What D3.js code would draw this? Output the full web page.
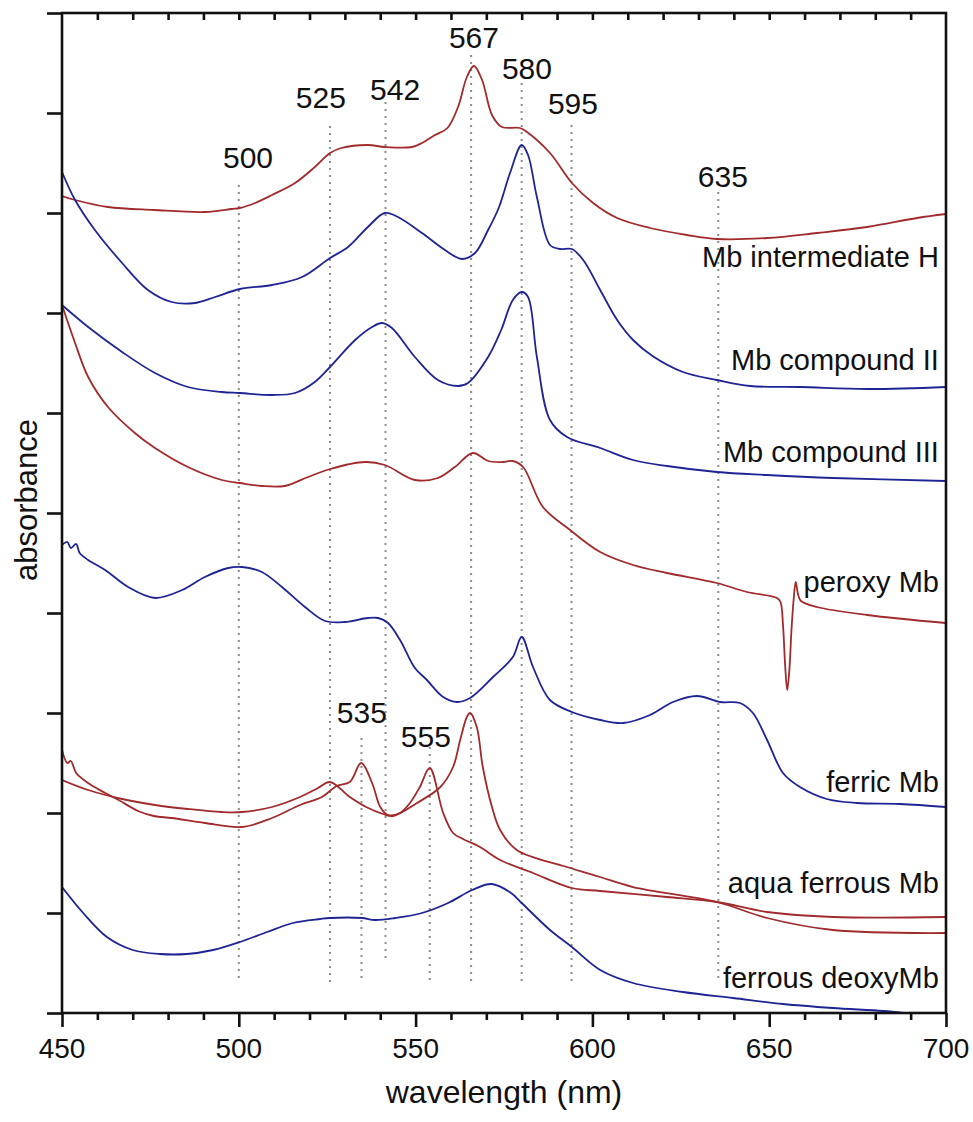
<!DOCTYPE html>
<html>
<head>
<meta charset="utf-8">
<script src="https://cdn.jsdelivr.net/npm/d3@7"></script>
<style>
  body { margin: 0; background: #fff; }
  svg text { font-family: "Liberation Sans", Arial, Helvetica, sans-serif; fill: #111; }
</style>
</head>
<body>
<svg id="chart" width="973" height="1122"></svg>
<script>
// spectra, [wavelength nm, absorbance (offset, arbitrary units)]
const intermediateH = [[450,8.17],[453.7,8.13],[463,8.06],[476,8.03],[490.4,8.01],[498,8.04],[500.3,8.05],[504.6,8.10],[509.4,8.18],[515.9,8.30],[521.5,8.46],[525.8,8.60],[529,8.65],[536.5,8.68],[541.3,8.66],[549,8.66],[551.8,8.70],[555.5,8.78],[559,8.85],[562,9.06],[564.5,9.36],[566.5,9.47],[568.8,9.33],[571.6,8.98],[574.4,8.86],[579.5,8.85],[581.5,8.81],[588,8.60],[594.2,8.30],[600.2,8.10],[607,7.95],[616.3,7.85],[626.7,7.78],[635.2,7.74],[649.4,7.75],[663.5,7.80],[677.7,7.86],[691.8,7.95],[700,7.99]];
const compoundII = [[450,8.41],[453.7,8.13],[459.3,7.83],[467,7.50],[474.3,7.23],[481,7.11],[487.6,7.10],[493.3,7.16],[500.3,7.24],[509.4,7.28],[517.9,7.36],[525.8,7.55],[530.9,7.66],[536.5,7.86],[541.3,8.00],[545,7.96],[551.8,7.80],[558.3,7.63],[563.1,7.54],[566.8,7.60],[570.5,7.83],[573.5,8.05],[576.7,8.40],[580,8.68],[581.8,8.58],[584.3,8.16],[588,7.68],[590.8,7.64],[594.2,7.64],[597.4,7.53],[602.2,7.23],[607,6.93],[611.5,6.73],[617,6.57],[625.6,6.41],[635.2,6.33],[644.6,6.27],[658.7,6.26],[677.7,6.24],[700,6.26]];
const compoundIII = [[450,7.08],[457.4,6.86],[467,6.61],[476.3,6.40],[485.6,6.26],[495.2,6.21],[500.3,6.20],[509.4,6.18],[515.9,6.20],[521.5,6.31],[525.8,6.46],[532.9,6.73],[537.7,6.86],[540.5,6.90],[543.3,6.85],[549.8,6.56],[556.3,6.33],[562,6.27],[564.8,6.30],[570.5,6.56],[574.2,6.83],[577.5,7.13],[580,7.21],[581.8,7.16],[584.3,6.56],[588,5.93],[592.8,5.76],[602.2,5.65],[611.5,5.53],[621.1,5.47],[635.2,5.41],[649.4,5.38],[668,5.35],[700,5.32]];
const peroxy = [[450,7.08],[453.7,6.70],[457.4,6.36],[463,6.06],[470.6,5.80],[476.3,5.65],[485.6,5.46],[495.2,5.33],[500.3,5.30],[506.5,5.27],[513,5.27],[519.6,5.36],[525.8,5.44],[535.7,5.51],[541.3,5.48],[549.8,5.33],[556.3,5.35],[561.1,5.46],[566.2,5.60],[570.5,5.52],[574.7,5.51],[577.5,5.52],[580.4,5.46],[586,5.06],[593.7,4.83],[602.2,4.61],[611.5,4.48],[621.1,4.40],[635.2,4.30],[643.7,4.21],[652.2,4.15],[653.2,4.11],[653.9,3.88],[654.5,3.48],[655.1,3.23],[655.7,3.43],[656.3,3.83],[656.9,4.13],[657.5,4.31],[658.2,4.18],[659,4.12],[663.5,4.06],[677.7,3.98],[700,3.90]];
const ferric = [[450,4.68],[451.5,4.71],[452.5,4.65],[454,4.69],[455,4.60],[457.4,4.53],[462.2,4.43],[468.7,4.26],[476.3,4.15],[484,4.23],[490.4,4.36],[497,4.45],[500.9,4.46],[506.5,4.41],[512.2,4.26],[518.7,4.06],[524.4,3.92],[530,3.91],[536.5,3.95],[539.4,3.95],[542.2,3.90],[545.6,3.73],[549.8,3.45],[553.2,3.33],[557.8,3.16],[561.7,3.11],[565.4,3.15],[571.9,3.36],[577.5,3.56],[580,3.76],[583.2,3.46],[588,3.13],[594.2,3.01],[602.2,2.93],[608.7,2.90],[616.3,2.98],[622.8,3.11],[629.6,3.17],[636.1,3.11],[641.7,3.10],[645.4,3.00],[649.4,2.73],[653.9,2.40],[658.7,2.26],[666.3,2.14],[674.8,2.10],[687,2.09],[700,2.06]];
const aquaFerrousA = [[450,2.33],[457.4,2.23],[467,2.14],[476.3,2.08],[485.6,2.04],[495.2,2.01],[500.9,2.01],[509.4,2.06],[517.3,2.16],[522.4,2.25],[525.8,2.31],[531.4,2.16],[536,2.06],[540.8,1.99],[543.6,1.97],[550.4,2.10],[557,2.26],[560.6,2.46],[562.6,2.73],[564.5,2.96],[565.4,3.00],[567.3,2.86],[569,2.46],[571.6,2.06],[573.9,1.83],[578.6,1.63],[592.8,1.46],[602.2,1.36],[611.5,1.26],[635.2,1.11],[649.4,0.95],[668,0.83],[700,0.80]];
const aquaFerrousB = [[450,2.63],[451.5,2.50],[452.5,2.52],[454,2.40],[457.4,2.30],[462.2,2.20],[466,2.13],[471.5,2.02],[476,1.97],[481,1.95],[490.4,1.90],[500.9,1.86],[509.4,1.95],[517.3,2.08],[523.5,2.16],[527.7,2.27],[531.4,2.31],[534.6,2.50],[537.7,2.30],[540,2.06],[542.2,1.98],[545.6,2.00],[548.4,2.10],[551.2,2.26],[554,2.45],[557.8,2.00],[560.6,1.80],[563.4,1.74],[568.2,1.66],[573.9,1.53],[583.2,1.40],[594.2,1.25],[602.2,1.22],[621.1,1.16],[635.2,1.11],[649.4,1.01],[668,0.96],[700,0.96]];
const deoxy = [[450,1.26],[456,1.00],[462.7,0.76],[470,0.63],[477.7,0.59],[485.3,0.59],[492.7,0.63],[500.3,0.71],[508,0.81],[515.3,0.90],[523,0.94],[525.8,0.95],[534.8,0.95],[538.5,0.93],[544.2,0.95],[551.8,1.00],[559.2,1.10],[566,1.23],[571.5,1.29],[577,1.20],[580,1.10],[588,0.83],[594.2,0.66],[602.2,0.43],[611.5,0.30],[625.6,0.21],[639.8,0.15],[653.9,0.09],[668,0.05],[682.2,0.02],[688,0.00]];

const seriesData = [intermediateH, compoundII, compoundIII, peroxy, ferric, aquaFerrousA, aquaFerrousB, deoxy];
const seriesKind = ["ox", "red", "red", "ox", "red", "ox", "ox", "red"];

// curve label anchors [nm, value] (right aligned)
const labelNames = ["Mb intermediate H","Mb compound II","Mb compound III","peroxy Mb","ferric Mb","aqua ferrous Mb","ferrous deoxyMb"];
const labelAt = [[698,7.46],[698,6.43],[698,5.51],[698,4.21],[698,2.21],[698,1.20],[698,0.25]];

// dotted band markers
const markerNm = [500, 525.8, 541.5, 534.7, 554, 565.7, 580, 594.1, 635.6];
const markerText = ["500","525","542","535","555","567","580","595","635"];
const markerTop = [8.28, 8.87, 9.11, 2.75, 2.66, 9.58, 9.30, 8.88, 8.21];
const markerBottom = [0.30, 0.30, 0.53, 0.30, 0.30, 0.30, 0.30, 0.30, 0.30];
const markerTextAt = [[502.6,8.45],[523.2,9.05],[544.2,9.13],[534.8,2.90],[552.9,2.66],[566.5,9.65],[581.5,9.34],[594.5,8.99],[636.9,8.26]];

const xMajor = [450, 500, 550, 600, 650, 700];

const margin = { left: 62, top: 13, right: 27, bottom: 109 };
const width = 973, height = 1122;
const w = width - margin.left - margin.right, h = height - margin.top - margin.bottom;

const colors = { ox: "#a02a2c", red: "#1f2494" };

const svg = d3.select("#chart");
const g = svg.append("g").attr("transform", `translate(${margin.left},${margin.top})`);

const x = d3.scaleLinear().domain([450, 700]).range([0, w]);
const y = d3.scaleLinear().domain([0, 10]).range([h, 0]);

g.append("clipPath").attr("id", "clip")
    .append("rect").attr("width", w).attr("height", h);

// dotted markers
g.selectAll("line.marker")
    .data(markerNm)
    .enter()
    .append("line")
    .attr("class", "marker")
    .attr("x1", d => x(d)).attr("x2", d => x(d))
    .attr("y1", (d, i) => y(markerTop[i]))
    .attr("y2", (d, i) => y(markerBottom[i]))
    .attr("stroke", "#8c8c8c")
    .attr("stroke-width", 2)
    .attr("stroke-dasharray", "2,5");

g.selectAll("text.marker")
    .data(markerText)
    .enter()
    .append("text")
    .attr("x", (d, i) => x(markerTextAt[i][0]))
    .attr("y", (d, i) => y(markerTextAt[i][1]))
    .attr("text-anchor", "middle")
    .attr("font-size", 30)
    .text(d => d);

// spectra
const line = d3.line()
    .x(d => x(d[0]))
    .y(d => y(d[1]))
    .curve(d3.curveCatmullRom.alpha(0.5));

g.append("g").attr("clip-path", "url(#clip)")
    .selectAll("path")
    .data(seriesData)
    .enter()
    .append("path")
    .attr("d", line)
    .attr("fill", "none")
    .attr("stroke", (d, i) => colors[seriesKind[i]])
    .attr("stroke-width", 1.8)
    .attr("stroke-linejoin", "round");

g.selectAll("text.series")
    .data(labelNames)
    .enter()
    .append("text")
    .attr("class", "series")
    .attr("x", (d, i) => x(labelAt[i][0]))
    .attr("y", (d, i) => y(labelAt[i][1]))
    .attr("text-anchor", "end")
    .attr("font-size", 29)
    .text(d => d);

// axes
const yAxis = g.append("g")
    .call(d3.axisLeft(y).ticks(10).tickSize(15).tickFormat(""));
const xAxis = g.append("g")
    .attr("transform", `translate(0,${h})`)
    .call(d3.axisBottom(x).tickValues(d3.range(450, 701, 10)).tickSize(7).tickFormat(""));
xAxis.selectAll(".tick line")
    .filter(d => xMajor.includes(d))
    .attr("y2", 14);
const topAxis = g.append("g")
    .call(d3.axisTop(x).tickValues(d3.range(460, 700, 10)).tickSize(-7).tickFormat(""));

[yAxis, xAxis, topAxis].forEach(a => {
    a.select(".domain").remove();
    a.selectAll(".tick line").attr("stroke", "#111").attr("stroke-width", 2.6);
});

g.selectAll("text.xlab")
    .data(xMajor)
    .enter()
    .append("text")
    .attr("x", d => x(d))
    .attr("y", h + 45)
    .attr("text-anchor", "middle")
    .attr("font-size", 28)
    .text(d => d);

g.append("rect")
    .attr("width", w).attr("height", h)
    .attr("fill", "none")
    .attr("stroke", "#111")
    .attr("stroke-width", 2.6);

g.append("text")
    .attr("x", w / 2)
    .attr("y", h + 90)
    .attr("text-anchor", "middle")
    .attr("font-size", 32)
    .text("wavelength (nm)");

g.append("text")
    .attr("transform", `translate(${37 - margin.left},${500 - margin.top}) rotate(-90)`)
    .attr("text-anchor", "middle")
    .attr("font-size", 31)
    .text("absorbance");
</script>
</body>
</html>
